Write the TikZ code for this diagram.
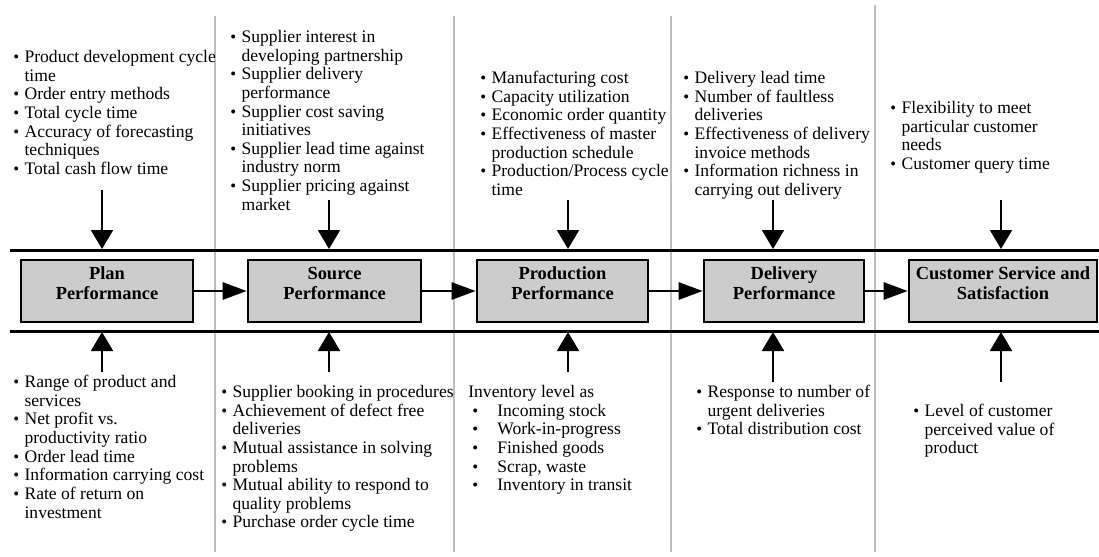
\documentclass[tikz,border=0pt]{standalone}
\usepackage{fontspec}
\setmainfont{Liberation Serif}
\usepackage{graphicx}
\usepackage{xcolor}
\usepackage{tikz}
\usetikzlibrary{arrows.meta,positioning}
\definecolor{boxgray}{RGB}{204,204,204}
\definecolor{rulegray}{RGB}{190,190,190}
\newcommand{\itemdot}{\makebox[6.4pt][l]{\scalebox{0.95}{\textbullet}}}
\newcommand{\itemgap}{\hspace*{6.4pt}}
\newcommand{\invdot}{\hspace*{2.3pt}\makebox[14.2pt][l]{\scalebox{0.95}{\textbullet}}}

\begin{document}
\begin{tikzpicture}[
  x=0.02cm, y=-0.02cm,
  font=\fontsize{10}{10.6}\selectfont,
  box/.style={draw, rectangle, fill=boxgray, minimum height=1.24cm, line width=1.5pt},
  boxtxt/.style={align=center, font=\fontsize{10.5}{11.4}\selectfont\bfseries, inner sep=0pt},
  txt/.style={anchor=north west, align=left, inner sep=0pt},
  hline/.style={line width=1.7pt},
  sep/.style={draw=rulegray, line width=0.6pt},
  arrh/.style={-{Triangle[length=0.48cm, width=0.34cm]}, line width=1.5pt},
  arrv/.style={-{Triangle[length=0.38cm, width=0.44cm]}, line width=1.1pt},
]
\useasboundingbox (0,0) rectangle (1099,556);

% ============ Column separators ============
\draw[sep] (215,16) -- (215,552);
\draw[sep] (454,16) -- (454,552);
\draw[sep] (671,16) -- (671,552);
\draw[sep] (875,5) -- (875,552);

% ============ Upper and lower rails ============
\draw[hline] (10,250) -- (1099,250);
\draw[hline] (10,331) -- (1099,331);

% ============ Performance boxes ============
\node[box, minimum width=3.44cm] (plan) at (107,291) {};
\node[boxtxt] (planT) at ([yshift=0.16cm]plan.center) {Plan\\Performance};

\node[box, minimum width=3.46cm] (source) at (334.5,291) {};
\node[boxtxt] (sourceT) at ([yshift=0.16cm]source.center) {Source\\Performance};

\node[box, minimum width=3.42cm] (production) at (562.5,291) {};
\node[boxtxt] (productionT) at ([yshift=0.16cm]production.center) {Production\\Performance};

\node[box, minimum width=3.2cm] (delivery) at (784,291) {};
\node[boxtxt] (deliveryT) at ([yshift=0.16cm]delivery.center) {Delivery\\Performance};

\node[box, minimum width=3.76cm] (customer) at (1003,291) {};
\node[boxtxt] (customerT) at ([yshift=0.16cm]customer.center) {Customer Service and\\Satisfaction};

% box to box
\draw[arrh] (plan) -- (source);
\draw[arrh] (source) -- (production);
\draw[arrh] (production) -- (delivery);
\draw[arrh] (delivery) -- (customer);

% ============ Upper measures ============
\node[txt] (planUp) at (13,50) {\itemdot Product development cycle\\ \itemgap time\\ \itemdot Order entry methods\\ \itemdot Total cycle time\\ \itemdot Accuracy of forecasting\\ \itemgap techniques\\ \itemdot Total cash flow time};

\node[txt] (sourceUp) at (230,30) {\itemdot Supplier interest in\\ \itemgap developing partnership\\ \itemdot Supplier delivery\\ \itemgap performance\\ \itemdot Supplier cost saving\\ \itemgap initiatives\\ \itemdot Supplier lead time against\\ \itemgap industry norm\\ \itemdot Supplier pricing against\\ \itemgap market};

\node[txt] (productionUp) at (480,71) {\itemdot Manufacturing cost\\ \itemdot Capacity utilization\\ \itemdot Economic order quantity\\ \itemdot Effectiveness of master\\ \itemgap production schedule\\ \itemdot Production/Process cycle\\ \itemgap time};

\node[txt] (deliveryUp) at (683,71) {\itemdot Delivery lead time\\ \itemdot Number of faultless\\ \itemgap deliveries\\ \itemdot Effectiveness of delivery\\ \itemgap invoice methods\\ \itemdot Information richness in\\ \itemgap carrying out delivery};

\node[txt] (customerUp) at (890,101) {\itemdot Flexibility to meet\\ \itemgap particular customer\\ \itemgap needs\\ \itemdot Customer query time};

% ============ Lower measures ============
\node[txt] (planDown) at (13,375) {\itemdot Range of product and\\ \itemgap services\\ \itemdot Net profit vs.\\ \itemgap productivity ratio\\ \itemdot Order lead time\\ \itemdot Information carrying cost\\ \itemdot Rate of return on\\ \itemgap investment};

\node[txt] (sourceDown) at (221,385) {\itemdot Supplier booking in procedures\\ \itemdot Achievement of defect free\\ \itemgap deliveries\\ \itemdot Mutual assistance in solving\\ \itemgap problems\\ \itemdot Mutual ability to respond to\\ \itemgap quality problems\\ \itemdot Purchase order cycle time};

\node[txt] (productionDown) at (468,385) {Inventory level as\\ \invdot Incoming stock\\ \invdot Work-in-progress\\ \invdot Finished goods\\ \invdot Scrap, waste\\ \invdot Inventory in transit};

\node[txt] (deliveryDown) at (696,385) {\itemdot Response to number of\\ \itemgap urgent deliveries\\ \itemdot Total distribution cost};

\node[txt] (customerDown) at (913,404) {\itemdot Level of customer\\ \itemgap perceived value of\\ \itemgap product};

% ============ Measures into the rails ============
\coordinate (planIn) at (102,190);   \coordinate (planRail) at (102,249);
\coordinate (sourceIn) at (329,200); \coordinate (sourceRail) at (329,249);
\coordinate (prodIn) at (568,200);   \coordinate (prodRail) at (568,249);
\coordinate (delIn) at (773,200);    \coordinate (delRail) at (773,249);
\coordinate (custIn) at (1001,200);  \coordinate (custRail) at (1001,249);
\draw[arrv] (planIn) -- (planRail);
\draw[arrv] (sourceIn) -- (sourceRail);
\draw[arrv] (prodIn) -- (prodRail);
\draw[arrv] (delIn) -- (delRail);
\draw[arrv] (custIn) -- (custRail);

\coordinate (planOut) at (102,372);   \coordinate (planLow) at (102,332);
\coordinate (sourceOut) at (329,372); \coordinate (sourceLow) at (329,332);
\coordinate (prodOut) at (568,372);   \coordinate (prodLow) at (568,332);
\coordinate (delOut) at (773,382);    \coordinate (delLow) at (773,332);
\coordinate (custOut) at (1001,382);  \coordinate (custLow) at (1001,332);
\draw[arrv] (planOut) -- (planLow);
\draw[arrv] (sourceOut) -- (sourceLow);
\draw[arrv] (prodOut) -- (prodLow);
\draw[arrv] (delOut) -- (delLow);
\draw[arrv] (custOut) -- (custLow);

\end{tikzpicture}
\end{document}
